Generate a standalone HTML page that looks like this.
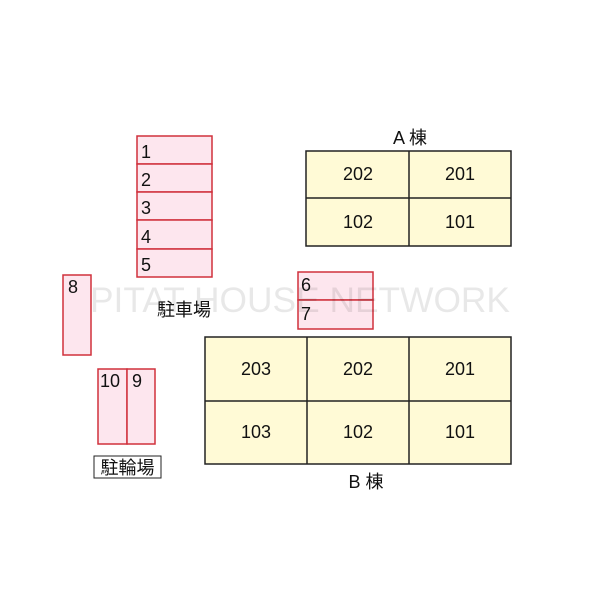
<!DOCTYPE html>
<html><head><meta charset="utf-8"><style>body{margin:0;background:#fff}svg text{font-family:"Liberation Sans","Noto Sans CJK JP",sans-serif}</style></head><body>
<svg width="600" height="600" viewBox="0 0 600 600" xmlns="http://www.w3.org/2000/svg">
<rect width="600" height="600" fill="#fff"/>
<g fill="#fde6ee" stroke="#d0303c" stroke-width="1.5">
<rect x="137" y="136" width="75" height="28"/><rect x="137" y="164" width="75" height="28"/><rect x="137" y="192" width="75" height="28"/><rect x="137" y="220" width="75" height="29"/><rect x="137" y="249" width="75" height="28"/>
<rect x="63" y="275" width="28" height="80"/>
<rect x="98" y="369" width="29" height="75"/><rect x="127" y="369" width="28" height="75"/>
<rect x="298" y="272" width="75" height="28"/><rect x="298" y="300" width="75" height="29"/>
</g>
<g fill="#fffad6" stroke="#222" stroke-width="1.5">
<rect x="306" y="151" width="205" height="95"/>
<rect x="205" y="337" width="306" height="127"/>
</g>
<g stroke="#222" stroke-width="1.5">
<line x1="409" y1="151" x2="409" y2="246"/><line x1="306" y1="198" x2="511" y2="198"/>
<line x1="307" y1="337" x2="307" y2="464"/><line x1="409" y1="337" x2="409" y2="464"/><line x1="205" y1="401" x2="511" y2="401"/>
</g>
<text x="300" y="312" font-size="35" fill="#000" fill-opacity="0.09" text-anchor="middle" textLength="420" lengthAdjust="spacingAndGlyphs">PITAT HOUSE NETWORK</text>
<g font-size="18" fill="#111">
<text x="141" y="158">1</text><text x="141" y="186">2</text><text x="141" y="214">3</text><text x="141" y="243">4</text><text x="141" y="271">5</text>
<text x="68" y="293">8</text><text x="100" y="387">10</text><text x="132" y="387">9</text>
<text x="301" y="291">6</text><text x="301" y="320">7</text>
</g>
<g font-size="18" fill="#111" text-anchor="middle">
<text x="358" y="180">202</text><text x="460" y="180">201</text><text x="358" y="228">102</text><text x="460" y="228">101</text>
<text x="256" y="375">203</text><text x="358" y="375">202</text><text x="460" y="375">201</text>
<text x="256" y="438">103</text><text x="358" y="438">102</text><text x="460" y="438">101</text>
<text x="410" y="144">A 棟</text><text x="366" y="488">B 棟</text>
<text x="184" y="316">駐車場</text>
</g>
<rect x="94" y="456" width="67" height="22" fill="none" stroke="#222" stroke-width="1"/>
<text x="127.5" y="474" font-size="18" fill="#111" text-anchor="middle">駐輪場</text>
</svg>
</body></html>
